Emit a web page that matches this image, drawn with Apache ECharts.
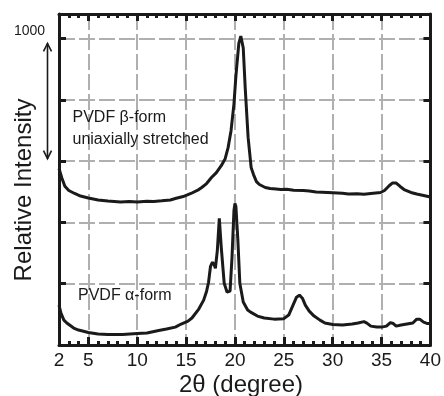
<!DOCTYPE html>
<html>
<head>
<meta charset="utf-8">
<script src="https://cdn.jsdelivr.net/npm/echarts@6/dist/echarts.min.js"></script>
<style>
html,body{margin:0;padding:0;background:#fff;}
#chart{width:444px;height:396px;}
</style>
</head>
<body>
<div id="chart"></div>
<script>
// ---- data (2θ in degrees, intensity in counts) ----
const betaX = [2.0, 2.3, 2.6, 3.0, 3.6, 4.2, 5.0, 6.0, 7.0, 8.3, 9.2, 10.0, 11.0, 11.7, 12.5, 13.4, 13.9, 14.7, 15.5, 16.3, 16.6, 17.1, 17.6, 18.1, 18.6, 19.0, 19.3, 19.6, 19.9, 20.1, 20.4, 20.6, 20.85, 21.05, 21.35, 21.66, 21.9, 22.2, 22.5, 23.1, 23.6, 24.2, 24.7, 25.3, 26.0, 27.0, 27.6, 28.3, 29.5, 30.5, 31.0, 31.6, 32.5, 33.2, 33.9, 34.9, 35.3, 35.8, 36.1, 36.5, 36.9, 37.3, 38.0, 38.6, 39.3, 40.0];
const betaY = [1440, 1360, 1295, 1260, 1236, 1215, 1199, 1183, 1175, 1167, 1170, 1167, 1172, 1171, 1176, 1183, 1195, 1211, 1236, 1268, 1285, 1317, 1366, 1406, 1463, 1520, 1610, 1748, 1967, 2195, 2463, 2520, 2423, 2098, 1691, 1447, 1390, 1333, 1309, 1285, 1276, 1272, 1268, 1270, 1262, 1260, 1256, 1248, 1244, 1240, 1238, 1232, 1234, 1230, 1236, 1244, 1260, 1301, 1321, 1321, 1293, 1268, 1244, 1232, 1220, 1207];

const alphaX = [2.0, 2.2, 2.5, 2.8, 3.5, 4.0, 5.0, 6.0, 7.0, 8.5, 10.0, 11.0, 12.2, 13.0, 13.9, 14.5, 15.2, 15.6, 16.3, 16.8, 17.1, 17.3, 17.5, 17.7, 17.9, 18.0, 18.2, 18.4, 18.6, 18.9, 19.2, 19.5, 19.7, 19.9, 20.0, 20.1, 20.3, 20.5, 20.85, 21.3, 21.6, 22.3, 23.0, 24.0, 25.0, 25.5, 25.9, 26.3, 26.6, 26.9, 27.2, 27.6, 28.1, 28.7, 29.2, 30.0, 31.0, 32.0, 32.6, 33.2, 33.5, 33.9, 34.5, 35.0, 35.5, 35.9, 36.2, 36.5, 37.0, 37.6, 38.2, 38.6, 38.9, 39.3, 39.7, 40.0];
const alphaY = [325, 260, 203, 179, 138, 122, 102, 89, 85, 85, 93, 98, 118, 130, 146, 171, 195, 220, 293, 366, 439, 512, 642, 675, 650, 626, 772, 1033, 797, 504, 431, 439, 715, 1098, 1154, 1130, 854, 504, 350, 285, 268, 236, 220, 211, 215, 244, 317, 390, 407, 382, 325, 276, 236, 203, 179, 167, 163, 171, 179, 191, 179, 154, 146, 146, 154, 183, 175, 154, 163, 171, 179, 211, 211, 187, 175, 175];

const xLabelValues = [2, 5, 10, 15, 20, 25, 30, 35, 40];
const xMajorTicks = [5, 10, 15, 20, 25, 30, 35];
const yInterval = 500;
const scaleBar = [2460, 1520];   // the "1000" double arrow (intensity units)

const FONT = '"Liberation Sans", Arial, Helvetica, sans-serif';
const chart = echarts.init(document.getElementById('chart'), null, {renderer: 'canvas'});

const gridLine = {show: true, lineStyle: {color: '#b0b0b0', width: 2, type: [16, 4]}};
const blackLine = {show: true, lineStyle: {color: '#1a1a1a', width: 3}};

function zip(xs, ys) { return xs.map((x, i) => [x, ys[i]]); }

const option = {
  animation: false,
  backgroundColor: '#fff',
  grid: {left: 59, right: 11, top: 14, bottom: 51, containLabel: false},
  xAxis: [
    { // main bottom axis: major ticks, labels, vertical grid lines
      type: 'value', position: 'bottom', min: 2, max: 40,
      axisLine: blackLine,
      axisTick: {show: true, inside: true, length: 8, customValues: xMajorTicks, lineStyle: {color: '#1a1a1a', width: 3}},
      axisLabel: {show: true, customValues: xLabelValues, margin: 6, color: '#1a1a1a', fontSize: 19, fontFamily: FONT},
      splitLine: gridLine
    },
    { // bottom minor ticks
      type: 'value', position: 'bottom', min: 2, max: 40, interval: 1,
      axisLine: {show: false},
      axisTick: {show: true, inside: true, length: 4, lineStyle: {color: '#1a1a1a', width: 3}},
      axisLabel: {show: false}, splitLine: {show: false}
    },
    { // top major ticks
      type: 'value', position: 'top', min: 2, max: 40,
      axisLine: blackLine,
      axisTick: {show: true, inside: true, length: 7, customValues: xMajorTicks, lineStyle: {color: '#1a1a1a', width: 3}},
      axisLabel: {show: false}, splitLine: {show: false}
    },
    { // top minor ticks
      type: 'value', position: 'top', min: 2, max: 40, interval: 1,
      axisLine: {show: false},
      axisTick: {show: true, inside: true, length: 4, lineStyle: {color: '#1a1a1a', width: 3}},
      axisLabel: {show: false}, splitLine: {show: false}
    }
  ],
  yAxis: [
    {
      type: 'value', position: 'left', min: 0, max: 2700, interval: yInterval,
      axisLine: blackLine,
      axisTick: {show: true, inside: true, length: 7, lineStyle: {color: '#1a1a1a', width: 3}},
      axisLabel: {show: false},
      splitLine: gridLine
    },
    {
      type: 'value', position: 'right', min: 0, max: 2700, interval: yInterval,
      axisLine: blackLine,
      axisTick: {show: true, inside: true, length: 7, lineStyle: {color: '#1a1a1a', width: 3}},
      axisLabel: {show: false},
      splitLine: {show: false}
    }
  ],
  series: [
    {
      name: 'PVDF β-form', type: 'line', xAxisIndex: 0, yAxisIndex: 0,
      data: zip(betaX, betaY), showSymbol: false, symbol: 'none',
      lineStyle: {color: '#1a1a1a', width: 3}, z: 5
    },
    {
      name: 'PVDF α-form', type: 'line', xAxisIndex: 0, yAxisIndex: 0,
      data: zip(alphaX, alphaY), showSymbol: false, symbol: 'none',
      lineStyle: {color: '#1a1a1a', width: 3}, z: 5
    }
  ]
};
chart.setOption(option);

// annotations
const barTop = chart.convertToPixel({yAxisIndex: 0}, scaleBar[0]);
const barBot = chart.convertToPixel({yAxisIndex: 0}, scaleBar[1]);
const ax = 47.5;
const txt = (text, x, y, size, extra) => ({
  type: 'text', x: x, y: y, silent: true,
  style: Object.assign({text: text, font: size + 'px ' + FONT, fill: '#1a1a1a', align: 'left', verticalAlign: 'middle'}, extra || {})
});
chart.setOption({
  graphic: [
    txt('1000', 14, 31.5, 14),
    {type: 'polyline', shape: {points: [[ax, barTop], [ax, barBot]]}, style: {stroke: '#1a1a1a', lineWidth: 1.6, fill: null}},
    {type: 'polyline', shape: {points: [[ax - 4, barTop + 8], [ax, barTop], [ax + 4, barTop + 8]]}, style: {stroke: '#1a1a1a', lineWidth: 1.6, fill: null}},
    {type: 'polyline', shape: {points: [[ax - 4, barBot - 8], [ax, barBot], [ax + 4, barBot - 8]]}, style: {stroke: '#1a1a1a', lineWidth: 1.6, fill: null}},
    txt('PVDF β-form', 72.5, 118, 16),
    txt('uniaxially stretched', 72.5, 139.5, 16),
    txt('PVDF α-form', 78, 296, 16),
    {type: 'text', x: 241, y: 385, silent: true,
      style: {text: '2θ (degree)', font: '24px ' + FONT, fill: '#1a1a1a', align: 'center', verticalAlign: 'middle'}},
    {type: 'text', x: 24, y: 190, rotation: Math.PI / 2, silent: true,
      style: {text: 'Relative Intensity', font: '24px ' + FONT, fill: '#1a1a1a', align: 'center', verticalAlign: 'middle'}}
  ]
});
</script>
</body>
</html>
